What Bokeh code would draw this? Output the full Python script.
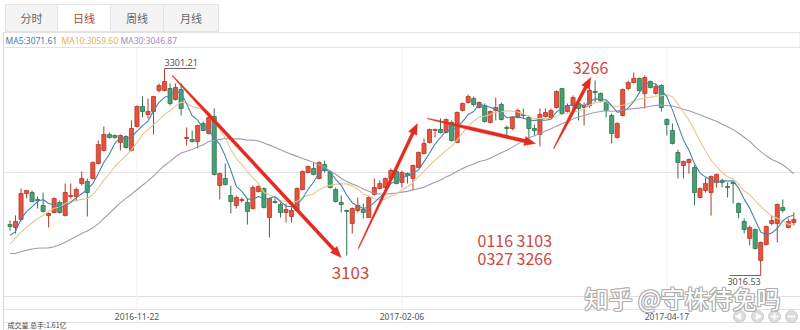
import math
from bokeh.plotting import figure
from bokeh.models import Range1d, ColumnDataSource
from bokeh.core.properties import value
from bokeh.embed import file_html
from bokeh.resources import INLINE

# ---------------- data ----------------
opens = [3086.7, 3082.6, 3093.6, 3129.3, 3130.7, 3121.1, 3112.8, 3099.1, 3103.2, 3117.0,
         3099.1, 3125.2, 3125.2, 3143.1, 3145.8, 3150.0, 3170.6, 3188.5, 3210.5, 3209.1,
         3199.5, 3207.7, 3188.5, 3221.5, 3249.0, 3238.0, 3242.1, 3271.0, 3271.0, 3273.7,
         3258.6, 3272.3, 3205.0, 3203.6, 3200.8, 3225.6, 3211.8, 3235.2, 3140.3, 3150.0,
         3126.6, 3112.8, 3119.7, 3117.0, 3108.7, 3132.1, 3136.2, 3096.3, 3118.3, 3114.2,
         3103.2, 3097.7, 3106.0, 3134.8, 3158.2, 3163.7, 3150.0, 3169.2, 3158.2, 3134.8,
         3117.0, 3106.0, 3088.1, 3106.0, 3107.3, 3096.3, 3128.0, 3136.2, 3137.6, 3150.0,
         3159.6, 3144.5, 3156.8, 3150.0, 3165.1, 3184.3, 3199.5, 3216.0, 3217.3, 3213.2,
         3227.0, 3199.5, 3243.5, 3254.5, 3260.0, 3247.6, 3250.3, 3227.0, 3243.5, 3251.7,
         3220.1, 3218.7, 3233.8, 3238.0, 3233.8, 3218.7, 3210.5, 3235.2, 3233.8, 3247.6,
         3273.7, 3242.1, 3250.3, 3253.1, 3247.6, 3250.3, 3269.6, 3266.8, 3254.5, 3236.6,
         3206.3, 3236.6, 3273.7, 3282.0, 3287.5, 3266.8, 3283.3, 3266.8, 3277.8, 3231.1,
         3216.0, 3185.7, 3167.8, 3172.0, 3165.1, 3123.8, 3133.5, 3130.7, 3144.5, 3147.2,
         3139.0, 3144.5, 3115.6, 3090.8, 3067.5, 3079.8, 3037.2, 3059.2, 3088.1, 3088.1,
         3110.1, 3082.6, 3089.5]
highs = [3092.2, 3099.1, 3136.2, 3133.5, 3133.5, 3125.2, 3130.7, 3103.2, 3123.8, 3119.7,
         3143.1, 3143.1, 3137.6, 3159.6, 3150.0, 3173.3, 3202.2, 3221.5, 3213.2, 3210.5,
         3210.5, 3209.1, 3229.7, 3250.3, 3262.7, 3260.0, 3262.7, 3280.6, 3301.21, 3280.6,
         3280.6, 3280.6, 3220.1, 3216.0, 3224.2, 3228.3, 3236.6, 3246.2, 3158.2, 3170.6,
         3140.3, 3126.6, 3123.8, 3122.5, 3140.3, 3140.3, 3137.6, 3123.8, 3123.8, 3117.0,
         3115.6, 3110.1, 3137.6, 3161.0, 3167.8, 3172.0, 3173.3, 3174.7, 3161.0, 3137.6,
         3126.6, 3107.3, 3110.1, 3123.8, 3115.6, 3126.6, 3150.0, 3147.2, 3151.3, 3163.7,
         3162.3, 3161.0, 3158.2, 3169.2, 3187.1, 3205.0, 3218.7, 3218.7, 3232.5, 3232.5,
         3229.7, 3242.1, 3254.5, 3265.5, 3262.7, 3255.8, 3253.1, 3243.5, 3261.3, 3254.5,
         3222.8, 3235.2, 3246.2, 3246.2, 3236.6, 3224.2, 3246.2, 3246.2, 3246.2, 3271.0,
         3273.7, 3253.1, 3264.1, 3260.0, 3254.5, 3273.7, 3284.7, 3268.2, 3257.2, 3239.3,
         3227.0, 3273.7, 3284.7, 3295.7, 3288.8, 3291.6, 3284.7, 3280.6, 3279.2, 3232.5,
         3225.6, 3189.8, 3174.7, 3177.5, 3167.8, 3137.6, 3151.3, 3154.1, 3156.8, 3150.0,
         3144.5, 3145.8, 3117.0, 3095.0, 3085.3, 3081.2, 3063.3, 3085.3, 3099.1, 3115.6,
         3121.1, 3095.0, 3103.2]
lows = [3078.5, 3074.3, 3090.8, 3122.5, 3117.0, 3108.7, 3103.2, 3082.6, 3101.8, 3101.8,
        3097.7, 3122.5, 3118.3, 3140.3, 3097.7, 3148.6, 3169.2, 3187.1, 3205.0, 3205.0,
        3188.5, 3191.2, 3187.1, 3220.1, 3233.8, 3232.5, 3210.5, 3268.2, 3269.6, 3250.3,
        3257.2, 3236.6, 3195.3, 3199.5, 3191.2, 3214.6, 3210.5, 3154.1, 3121.1, 3140.3,
        3101.8, 3108.7, 3117.0, 3086.7, 3107.3, 3130.7, 3108.7, 3068.8, 3115.6, 3096.3,
        3089.5, 3089.5, 3104.6, 3133.5, 3156.8, 3154.1, 3148.6, 3158.2, 3136.2, 3117.0,
        3103.2, 3044.1, 3074.3, 3103.2, 3095.0, 3096.3, 3126.6, 3134.8, 3136.2, 3150.0,
        3141.7, 3137.6, 3143.1, 3133.5, 3165.1, 3183.0, 3198.1, 3206.3, 3211.8, 3211.8,
        3200.8, 3199.5, 3242.1, 3253.1, 3249.0, 3246.2, 3227.0, 3225.6, 3229.7, 3229.7,
        3209.1, 3216.0, 3232.5, 3232.5, 3205.0, 3209.1, 3194.0, 3233.8, 3232.5, 3246.2,
        3238.0, 3240.7, 3242.1, 3229.7, 3222.8, 3247.6, 3254.5, 3254.5, 3233.8, 3198.1,
        3205.0, 3235.2, 3271.0, 3280.6, 3269.6, 3246.2, 3273.7, 3265.5, 3242.1, 3209.1,
        3196.7, 3150.0, 3150.0, 3156.8, 3112.8, 3122.5, 3130.7, 3099.1, 3137.6, 3137.6,
        3123.8, 3115.6, 3095.0, 3074.3, 3057.8, 3052.3, 3016.53, 3057.8, 3085.3, 3062.0,
        3103.2, 3081.2, 3085.3]
closes = [3084.0, 3090.8, 3129.3, 3133.5, 3118.3, 3119.7, 3104.6, 3101.8, 3122.5, 3103.2,
          3130.7, 3126.6, 3134.8, 3150.0, 3130.7, 3172.0, 3196.7, 3210.5, 3206.3, 3206.3,
          3209.1, 3192.6, 3218.7, 3249.0, 3242.1, 3242.1, 3262.7, 3277.8, 3283.3, 3253.1,
          3275.1, 3246.2, 3206.3, 3200.8, 3222.8, 3216.0, 3233.8, 3155.5, 3156.8, 3141.7,
          3118.3, 3123.8, 3121.1, 3104.6, 3137.6, 3139.0, 3110.1, 3122.5, 3117.0, 3103.2,
          3107.3, 3106.0, 3136.2, 3159.6, 3166.5, 3155.5, 3172.0, 3161.0, 3137.6, 3118.3,
          3114.2, 3104.6, 3108.7, 3112.8, 3103.2, 3123.8, 3137.6, 3143.1, 3150.0, 3161.0,
          3143.1, 3158.2, 3154.1, 3167.8, 3185.7, 3198.1, 3217.3, 3217.3, 3213.2, 3231.1,
          3202.2, 3240.7, 3253.1, 3262.7, 3251.7, 3254.5, 3228.3, 3242.1, 3247.6, 3231.1,
          3218.7, 3233.8, 3243.5, 3236.6, 3218.7, 3216.0, 3238.0, 3240.7, 3243.5, 3269.6,
          3239.3, 3250.3, 3261.3, 3246.2, 3250.3, 3271.0, 3268.2, 3257.2, 3243.5, 3211.8,
          3225.6, 3272.3, 3282.0, 3287.5, 3271.0, 3288.8, 3275.1, 3276.5, 3247.6, 3224.2,
          3198.1, 3172.0, 3173.3, 3176.1, 3130.7, 3136.2, 3143.1, 3152.7, 3155.5, 3144.5,
          3137.6, 3143.1, 3103.2, 3079.8, 3082.6, 3053.7, 3062.0, 3084.0, 3092.2, 3114.2,
          3106.0, 3090.8, 3093.6]
# closes of the 29 sessions before the first candle (only feed the moving averages)
prior_closes = [3085.5, 3063.3, 3067.4, 3072.1, 3090.7, 3091.9, 3095.9, 3078.9, 3022.0, 3023.5,
                3002.9, 3026.1, 3023.0, 3025.9, 3042.3, 3033.9, 2980.4, 2998.5, 2987.9, 2998.5,
                3004.7, 3048.1, 3065.3, 3058.5, 3061.3, 3063.8, 3041.2, 3083.9, 3084.7]
tick_index = [23, 71, 119]
tick_labels = ["2016-11-22", "2017-02-06", "2017-04-17"]
legend_labels = ["MA5:3071.61", "MA10:3059.60", "MA30:3046.87"]
tab_labels = ["分时", "日线", "周线", "月线"]
note_lines = ["0116 3103", "0327 3266"]
low_note = "3103"
high_note = "3266"
watermark = "知乎 @守株待兔吗"
volume_label = "成交量 总手:1.61亿"

# ---------------- layout ----------------
W, H = 800, 330
STEP = 5.52          # px per session
X0 = 9.5             # px of the first session
P_TOP = 3394.7       # price at the top edge
PT_PX = 1.375        # price points per px


def dx(px):
    return (px - X0) / STEP


def dy(py):
    return P_TOP - py * PT_PX


def sx(i):
    return X0 + STEP * i


def sy(pr):
    return (P_TOP - pr) / PT_PX


p = figure(width=W, height=H, x_range=Range1d(dx(0), dx(W)), y_range=Range1d(dy(H), dy(0)),
           x_axis_type=None, y_axis_type=None, toolbar_location=None,
           output_backend="svg", min_border=0)
p.outline_line_color = None
p.background_fill_color = "white"
p.border_fill_color = "white"

CJK = value("Noto Sans CJK SC")
LAT = value("Noto Sans")

# tabs
tab_l = [5, 57, 110, 163]
tab_r = [57, 110, 163, 218]
p.quad(left=[dx(a) for a in tab_l], right=[dx(b) for b in tab_r], top=dy(4), bottom=dy(31),
       fill_color=["#f4f4f4", "#ffffff", "#f4f4f4", "#f4f4f4"], line_color="#e3e3e3")
p.text(x=[dx((a + b) / 2) for a, b in zip(tab_l, tab_r)], y=[dy(17.5)] * 4, text=tab_labels,
       text_align="center", text_baseline="middle", text_font=CJK, text_font_size="11px",
       text_color=["#666666", "#b5473b", "#666666", "#666666"])

# legend strip
p.quad(left=dx(3), right=dx(799.5), top=dy(32), bottom=dy(47), fill_color="white", line_color="#e2e2e2")
p.text(x=[dx(5), dx(61), dx(120)], y=[dy(39.5)] * 3, text=legend_labels,
       text_baseline="middle", text_font=LAT, text_font_size="8.5px",
       text_color=["#3f7aa6", "#e3b257", "#a48ebd"])

# frame lines
hl = [172, 296, 309, 322]
p.segment(x0=[dx(3)] * 4, x1=[dx(800)] * 4, y0=[dy(v) for v in hl], y1=[dy(v) for v in hl],
          line_color=["#e3e3e3", "#dedede", "#e3e3e3", "#e3e3e3"], line_width=1)
p.segment(x0=[dx(3)], x1=[dx(3)], y0=[dy(32)], y1=[dy(330)], line_color="#d9d9d9")
p.segment(x0=tick_index, x1=tick_index, y0=[dy(47)] * 3, y1=[dy(322)] * 3,
          line_color="#f0f0f0", line_width=1)
p.text(x=tick_index, y=[dy(316)] * 3, text=tick_labels, text_align="center",
       text_baseline="middle", text_font=LAT, text_font_size="8.5px", text_color="#555555")
p.text(x=[dx(7)], y=[dy(329.5)], text=[volume_label], text_baseline="bottom",
       text_font=CJK, text_font_size="7px", text_color="#444444")

# moving averages
all_c = prior_closes + closes
off = len(prior_closes)
idx = list(range(len(closes)))


def ma(n):
    return [sum(all_c[off + i - n + 1: off + i + 1]) / n for i in idx]


# candles
RED_F, RED_L = "#e8523c", "#b5382a"
GRN_F, GRN_L = "#45a373", "#2d7350"
up = [c >= o for o, c in zip(opens, closes)]
src = ColumnDataSource(dict(
    x=idx, o=opens, h=highs, l=lows, c=closes,
    top=[max(o, c) for o, c in zip(opens, closes)],
    bot=[min(o, c) for o, c in zip(opens, closes)],
    fill=[RED_F if u else GRN_F for u in up],
    edge=[RED_L if u else GRN_L for u in up],
))
p.segment(x0="x", x1="x", y0="h", y1="l", line_color="edge", line_width=1, source=src)
p.vbar(x="x", width=0.74, top="top", bottom="bot", fill_color="fill", line_color="edge",
       line_width=0.8, source=src)

p.line(idx, ma(30), line_color="#a39cb0", line_width=1.1)
p.line(idx, ma(10), line_color="#e6c98f", line_width=1.1)
p.line(idx, ma(5), line_color="#4b84ac", line_width=1.1)

# extreme value labels
hi_i = max(idx, key=lambda i: highs[i])
lo_i = min(idx, key=lambda i: lows[i])
span = 31 / STEP
p.segment(x0=[hi_i, lo_i - span], x1=[hi_i + span, lo_i], y0=[highs[hi_i], lows[lo_i]],
          y1=[highs[hi_i], lows[lo_i]], line_color="#666666", line_width=1)
p.text(x=[hi_i], y=[highs[hi_i] + 2 * PT_PX], text=[f"{highs[hi_i]:.2f}"], text_baseline="bottom",
       text_font=LAT, text_font_size="9px", text_color="#555555")
p.text(x=[lo_i], y=[lows[lo_i] - 2 * PT_PX], text=[f"{lows[lo_i]:.2f}"], text_align="right",
       text_baseline="top", text_font=LAT, text_font_size="9px", text_color="#555555")

# hand-drawn red arrows (index, price) -> (index, price)
arrows = [
    (29.4, 3291.6, 60.0, 3041.3, 0.8, 3.2, 0.22),
    (63.1, 3053.7, 73.8, 3225.6, 0.7, 3.0, 0.6),
    (75.6, 3232.5, 95.2, 3198.1, 0.6, 3.4, 0.45),
    (98.5, 3191.2, 105.2, 3288.8, 0.6, 3.0, 0.5),
]
xs, ys = [], []
for i0, p0, i1, p1, w0, w1, f in arrows:
    x0, y0, x1, y1 = sx(i0), sy(p0), sx(i1), sy(p1)
    L = math.hypot(x1 - x0, y1 - y0)
    ux, uy = (x1 - x0) / L, (y1 - y0) / L
    nx, ny = -uy, ux
    hl_, hw = 11.0, 9.0
    bx, by = x1 - ux * hl_, y1 - uy * hl_
    mx, my = x0 + (bx - x0) * f, y0 + (by - y0) * f
    pts = [(x0 + nx * w0 / 2, y0 + ny * w0 / 2), (mx + nx * w1 / 2, my + ny * w1 / 2),
           (bx + nx * w1 / 2, by + ny * w1 / 2), (bx + nx * hw / 2, by + ny * hw / 2),
           (x1, y1),
           (bx - nx * hw / 2, by - ny * hw / 2), (bx - nx * w1 / 2, by - ny * w1 / 2),
           (mx - nx * w1 / 2, my - ny * w1 / 2), (x0 - nx * w0 / 2, y0 - ny * w0 / 2)]
    xs.append([dx(a) for a, b in pts])
    ys.append([dy(b) for a, b in pts])
p.patches(xs, ys, fill_color="#e42b20", line_color="#e42b20", line_width=0.4)

RED_T = "#cf4840"
p.text(x=[dx(350)], y=[dy(272)], text=[low_note], text_align="center", text_baseline="middle",
       text_font=CJK, text_font_size="17px", text_color=RED_T)
p.text(x=[dx(590)], y=[dy(67)], text=[high_note], text_align="center", text_baseline="middle",
       text_font=CJK, text_font_size="16px", text_color=RED_T)
p.text(x=[dx(477)] * 2, y=[dy(239), dy(257)], text=note_lines, text_baseline="middle",
       text_font=CJK, text_font_size="16px", text_color=RED_T)

# navigation buttons
bx_ = [739, 757, 774, 791]
p.scatter(x=[dx(v) for v in bx_], y=[dy(316)] * 4, size=12, marker="circle",
          fill_color="#dddddd", line_color="#cccccc")
p.scatter(x=[dx(738.5)], y=[dy(316)], size=6, marker="triangle", angle=math.pi / 2,
          fill_color="white", line_color="white")
p.scatter(x=[dx(757.5)], y=[dy(316)], size=6, marker="triangle", angle=-math.pi / 2,
          fill_color="white", line_color="white")
p.scatter(x=[dx(774)], y=[dy(316)], size=7, marker="cross", line_color="white", line_width=1.6)
p.scatter(x=[dx(791)], y=[dy(316)], size=7, marker="dash", line_color="white", line_width=1.6)

# watermark
for ox, oy in [(-1, 0), (1, 0), (0, -1), (0, 1), (-1, -1), (1, 1), (-1, 1), (1, -1)]:
    p.text(x=[dx(584)], y=[dy(297)], text=[watermark], x_offset=ox, y_offset=oy,
           text_baseline="middle", text_font=CJK, text_font_size="24px", text_color="#b0b0b0")
p.text(x=[dx(584)], y=[dy(297)], text=[watermark], text_baseline="middle",
       text_font=CJK, text_font_size="24px", text_color="#ffffff")

open("out.html", "w").write(file_html(p, INLINE))
